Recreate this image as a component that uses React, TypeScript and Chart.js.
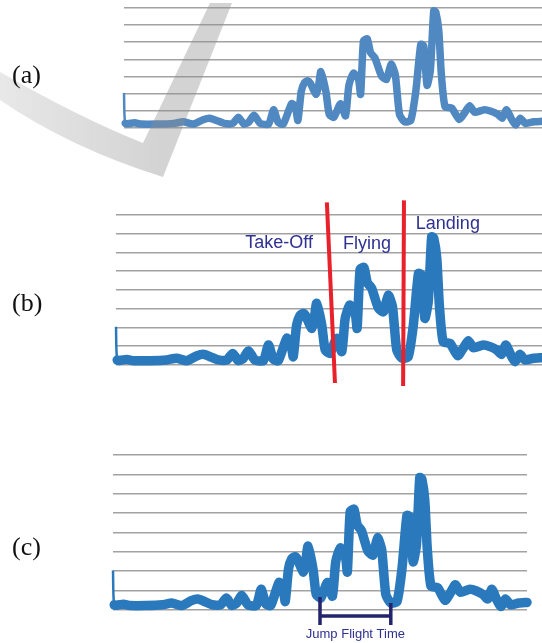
import React, { useEffect, useRef } from "react";
import { Chart, registerables } from "chart.js";

Chart.register(...registerables);

// ---- data (time in % of recording, signal in grid units) ----
const timeAxis = [
  0, 0.3, 2.5, 4.1, 8.0, 11.9, 14.2, 16.6, 18.9, 20.5, 22.1, 24.0, 26.0, 27.4, 28.7, 29.9,
  31.1, 32.6, 34.6, 35.8, 36.9, 38.1, 40.1, 41.0, 41.6, 42.4, 43.2, 44.0, 44.6, 45.9, 46.5,
  47.1, 48.3, 49.1, 50.2, 51.8, 53.0, 53.8, 54.9, 56.1, 56.6, 57.3, 58.2, 59.0, 60.0, 61.6,
  62.8, 63.9, 64.9, 65.9, 67.1, 68.6, 69.8, 71.0, 71.7, 72.5, 73.3, 74.1, 74.6, 75.3, 75.9,
  76.8, 78.4, 80.2, 81.5, 82.7, 83.9, 86.2, 87.8, 89.4, 90.5, 91.5, 92.6, 93.7, 94.8, 96.0,
  98.0, 100,
];
const signal = [
  2.04, 0.27, 0.3, 0.23, 0.23, 0.27, 0.36, 0.23, 0.48, 0.57, 0.44, 0.27, 0.27, 0.62, 0.23, 0.36,
  0.75, 0.27, 0.23, 1.07, 0.32, 0.23, 1.42, 1.24, 0.44, 2.13, 2.65, 2.75, 2.6, 1.96, 2.4,
  3.29, 2.13, 0.8, 0.62, 1.42, 0.71, 2.49, 3.2, 2.84, 1.96, 5.09, 5.2, 4.38, 4.1, 3.03,
  2.84, 3.73, 3.11, 0.8, 0.36, 0.44, 2.13, 4.88, 4.8, 2.49, 3.38, 6.84, 6.76, 5.69, 3.2,
  1.24, 1.16, 0.5, 0.89, 1.3, 0.92, 1.07, 0.98, 0.8, 0.57, 1.07, 0.57, 0.18, 0.57, 0.27,
  0.36, 0.39,
];
const panelLabels = ["(a)", "(b)", "(c)"];
const panelGridMax = [7, 8, 8];

// phases of panel (b)
const phaseLabels = ["Take-Off", "Flying", "Landing"];
const phaseLabelX = [38.3, 58.9, 77.9];
const phaseLabelY = [6.49, 6.44, 7.5];
const boundaryTopX = [49.5, 67.6];
const boundaryTopY = [8.67, 8.78];
const boundaryBottomX = [51.4, 67.4];
const boundaryBottomY = [-0.96, -1.12];

// flight time bracket of panel (c)
const flightLabel = "Jump Flight Time";
const flightStartX = 50.0;
const flightEndX = 67.1;
const flightBarY = -0.31;
const flightTickTopY = [0.67, 0.36];
const flightTickBottomY = -0.77;
const flightLabelY = -1.24;

const NAVY = "#2e3191";

type Panel = {
  top: number;
  height: number;
  pad: { left: number; right: number; top: number; bottom: number };
  color: string;
  width: number;
  kind: "a" | "b" | "c";
};

const panels: Panel[] = [
  { top: 0, height: 190, pad: { left: 124, right: 0, top: 8, bottom: 62 }, color: "#5088c1", width: 7.5, kind: "a" },
  { top: 195, height: 195, pad: { left: 116, right: 0, top: 20, bottom: 25 }, color: "#2b79bd", width: 9.5, kind: "b" },
  { top: 445, height: 198, pad: { left: 113, right: 15, top: 10, bottom: 33 }, color: "#2b79bd", width: 9.5, kind: "c" },
];

const decorPlugin = (kind: string) => ({
  id: "decor_" + kind,
  afterDraw(chart: any) {
    const ctx = chart.ctx as CanvasRenderingContext2D;
    const xs = chart.scales.x;
    const ys = chart.scales.y;
    const px = (v: number) => xs.getPixelForValue(v);
    const py = (v: number) => ys.getPixelForValue(v);
    ctx.save();
    if (kind === "a") {
      // grey check-mark watermark
      const g = ctx.createLinearGradient(0, 0, 160, 0);
      g.addColorStop(0, "rgba(140,140,140,0.2)");
      g.addColorStop(1, "rgba(140,140,140,0.38)");
      ctx.fillStyle = g;
      ctx.beginPath();
      ctx.moveTo(0, 72);
      ctx.quadraticCurveTo(80, 118, 143, 143);
      ctx.lineTo(210, 3);
      ctx.lineTo(232, 3);
      ctx.lineTo(163, 177);
      ctx.quadraticCurveTo(70, 148, 0, 100);
      ctx.closePath();
      ctx.fill();
    }
    if (kind === "b") {
      ctx.strokeStyle = "#e8212b";
      ctx.lineWidth = 4;
      ctx.lineCap = "butt";
      for (let i = 0; i < boundaryTopX.length; i++) {
        ctx.beginPath();
        ctx.moveTo(px(boundaryTopX[i]), py(boundaryTopY[i]));
        ctx.lineTo(px(boundaryBottomX[i]), py(boundaryBottomY[i]));
        ctx.stroke();
      }
      ctx.fillStyle = NAVY;
      ctx.font = '18px "Liberation Sans", Arial, sans-serif';
      ctx.textAlign = "center";
      ctx.textBaseline = "middle";
      phaseLabels.forEach((t, i) => ctx.fillText(t, px(phaseLabelX[i]), py(phaseLabelY[i])));
    }
    if (kind === "c") {
      ctx.strokeStyle = "#24236e";
      ctx.lineWidth = 3.5;
      ctx.beginPath();
      ctx.moveTo(px(flightStartX), py(flightTickTopY[0]));
      ctx.lineTo(px(flightStartX), py(flightTickBottomY));
      ctx.moveTo(px(flightEndX), py(flightTickTopY[1]));
      ctx.lineTo(px(flightEndX), py(flightTickBottomY));
      ctx.moveTo(px(flightStartX), py(flightBarY));
      ctx.lineTo(px(flightEndX), py(flightBarY));
      ctx.stroke();
      ctx.fillStyle = NAVY;
      ctx.font = '13px "Liberation Sans", Arial, sans-serif';
      ctx.textAlign = "center";
      ctx.textBaseline = "middle";
      ctx.fillText(flightLabel, px((flightStartX + flightEndX) / 2), py(flightLabelY));
    }
    ctx.restore();
  },
});

function PanelChart({ panel, gridMax }: { panel: Panel; gridMax: number }) {
  const ref = useRef<HTMLCanvasElement>(null);
  useEffect(() => {
    if (!ref.current) return;
    const chart = new Chart(ref.current, {
      type: "line",
      data: {
        datasets: [
          {
            data: timeAxis.map((x, i) => ({ x, y: signal[i] })),
            borderColor: panel.color,
            borderWidth: panel.width,
            pointRadius: 0,
            tension: 0.2,
            borderCapStyle: "round",
            borderJoinStyle: "round",
            fill: false,
            clip: false as any,
            segment: {
              borderWidth: (c: any) => (c.p0DataIndex === 0 ? 2.5 : undefined),
              borderCapStyle: (c: any) => (c.p0DataIndex === 0 ? "butt" : undefined),
            } as any,
          },
        ],
      },
      options: {
        animation: false,
        responsive: false,
        devicePixelRatio: 1,
        layout: { padding: panel.pad },
        plugins: { legend: { display: false }, tooltip: { enabled: false } },
        scales: {
          x: { type: "linear", min: 0, max: 100, display: false },
          y: {
            min: 0,
            max: gridMax,
            ticks: { display: false, stepSize: 1 },
            grid: { color: "#a2a2a2", lineWidth: 1.6, drawTicks: false },
            border: { display: false },
          },
        },
      },
      plugins: [decorPlugin(panel.kind)],
    });
    return () => chart.destroy();
  }, [panel, gridMax]);
  return (
    <canvas
      ref={ref}
      width={542}
      height={panel.height}
      style={{ position: "absolute", left: 0, top: panel.top, width: 542, height: panel.height }}
    />
  );
}

const labelTops = [62, 290, 534];

export default function App() {
  return (
    <div style={{ position: "absolute", left: 0, top: 0, width: 542, height: 643, background: "#fff", overflow: "hidden" }}>
      {panels.map((p, i) => (
        <PanelChart key={i} panel={p} gridMax={panelGridMax[i]} />
      ))}
      {panelLabels.map((t, i) => (
        <div
          key={t}
          style={{
            position: "absolute",
            left: 12,
            top: labelTops[i],
            fontFamily: '"Liberation Serif", "Times New Roman", serif',
            fontSize: 26,
            lineHeight: "26px",
            color: "#111",
          }}
        >
          {t}
        </div>
      ))}
    </div>
  );
}
